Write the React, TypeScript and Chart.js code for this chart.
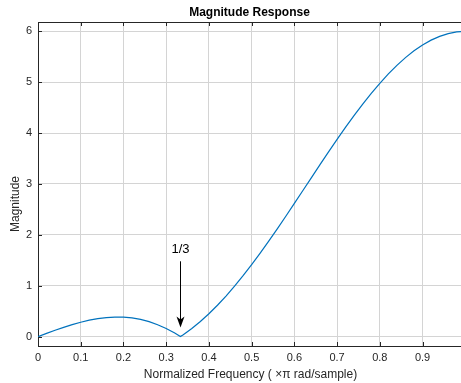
import React, { useEffect, useRef } from "react";
import { Chart, registerables } from "chart.js";

Chart.register(...registerables);

const freq = [
  0, 0.02, 0.04, 0.06, 0.08, 0.1, 0.12, 0.14, 0.16, 0.18, 0.2, 0.22, 0.24, 0.26, 0.28, 0.3, 0.32,
  0.3333, 0.34, 0.36, 0.38, 0.4, 0.42, 0.44, 0.46, 0.48, 0.5, 0.52, 0.54, 0.56, 0.58, 0.6, 0.62,
  0.64, 0.66, 0.68, 0.7, 0.72, 0.74, 0.76, 0.78, 0.8, 0.82, 0.84, 0.86, 0.88, 0.9, 0.92, 0.94,
  0.96, 0.98, 0.99,
];
const magnitude = [
  0, 0.0626, 0.1236, 0.1816, 0.2349, 0.2822, 0.3221, 0.3532, 0.3743, 0.3843, 0.382, 0.3665,
  0.3372, 0.2932, 0.2341, 0.1594, 0.069, 0, 0.0372, 0.1591, 0.2965, 0.449, 0.6161, 0.7971,
  0.9911, 1.1972, 1.4142, 1.641, 1.8763, 2.1185, 2.3663, 2.618, 2.872, 3.1266, 3.3802, 3.6308,
  3.8769, 4.1167, 4.3485, 4.5707, 4.7816, 4.9798, 5.1638, 5.3323, 5.484, 5.6178, 5.7328, 5.828,
  5.9028, 5.9567, 5.9892, 5.9973,
];
const xTicks = [0, 0.1, 0.2, 0.3, 0.4, 0.5, 0.6, 0.7, 0.8, 0.9];
const yTicks = [0, 1, 2, 3, 4, 5, 6];
const titleText = "Magnitude Response";
const xLabel = "Normalized Frequency ( ×π rad/sample)";
const yLabel = "Magnitude";
const markerX = 1 / 3;
const markerLabel = "1/3";

const FONT = '"Liberation Sans", Arial, Helvetica, sans-serif';
const AXIS = "#262626";

const decor = {
  id: "decor",
  afterDraw(chart: any) {
    const { ctx, chartArea: a, scales } = chart;
    const xs = scales.x;
    const ys = scales.y;
    ctx.save();
    // top border
    ctx.strokeStyle = AXIS;
    ctx.lineWidth = 1;
    ctx.beginPath();
    ctx.moveTo(a.left, Math.round(a.top) + 0.5);
    ctx.lineTo(a.right, Math.round(a.top) + 0.5);
    ctx.stroke();
    // inward ticks
    ctx.beginPath();
    xTicks.forEach((v) => {
      const px = Math.round(xs.getPixelForValue(v)) + 0.5;
      ctx.moveTo(px, a.bottom);
      ctx.lineTo(px, a.bottom - 4);
      ctx.moveTo(px, a.top);
      ctx.lineTo(px, a.top + 4);
    });
    yTicks.forEach((v) => {
      const py = Math.round(ys.getPixelForValue(v)) + 0.5;
      ctx.moveTo(a.left, py);
      ctx.lineTo(a.left + 4, py);
    });
    ctx.stroke();
    // title
    ctx.fillStyle = "#000";
    ctx.font = `bold 12px ${FONT}`;
    ctx.textAlign = "center";
    ctx.textBaseline = "middle";
    ctx.fillText(titleText, (a.left + a.right) / 2, 13);
    // axis labels
    ctx.fillStyle = AXIS;
    ctx.font = `12px ${FONT}`;
    ctx.fillText(xLabel, (a.left + a.right) / 2 + 1, 375);
    ctx.save();
    ctx.translate(16, 204);
    ctx.rotate(-Math.PI / 2);
    ctx.fillText(yLabel, 0, 0);
    ctx.restore();
    // annotation
    const mx = Math.round(xs.getPixelForValue(markerX)) + 0.5;
    const tipY = ys.getPixelForValue(0.18);
    const tailY = ys.getPixelForValue(1.48);
    ctx.fillStyle = "#000";
    ctx.font = `13px ${FONT}`;
    ctx.fillText(markerLabel, mx, ys.getPixelForValue(1.71));
    ctx.strokeStyle = "#000";
    ctx.lineWidth = 1;
    ctx.beginPath();
    ctx.moveTo(mx, tailY);
    ctx.lineTo(mx, tipY - 4);
    ctx.stroke();
    ctx.beginPath();
    ctx.moveTo(mx, tipY);
    ctx.lineTo(mx - 4, tipY - 11);
    ctx.lineTo(mx, tipY - 8);
    ctx.lineTo(mx + 4, tipY - 11);
    ctx.closePath();
    ctx.fill();
    ctx.restore();
  },
};

export default function App() {
  const ref = useRef<HTMLCanvasElement | null>(null);
  useEffect(() => {
    if (!ref.current) return;
    const chart = new Chart(ref.current, {
      type: "line",
      data: {
        datasets: [
          {
            data: freq.map((f, i) => ({ x: f, y: magnitude[i] })),
            borderColor: "#0072BD",
            borderWidth: 1.2,
            pointRadius: 0,
            tension: 0,
            fill: false,
          },
        ],
      },
      options: {
        animation: false,
        responsive: false,
        layout: { padding: { top: 22, right: 0, left: 0, bottom: 0 } },
        plugins: { legend: { display: false }, title: { display: false }, tooltip: { enabled: false } },
        scales: {
          x: {
            type: "linear",
            min: 0,
            max: 0.99,
            afterBuildTicks: (s: any) => {
              s.ticks = xTicks.map((v) => ({ value: v }));
            },
            afterFit: (s: any) => {
              s.height = 37;
            },
            ticks: {
              font: { family: FONT, size: 11 },
              color: AXIS,
              padding: 5,
              maxRotation: 0,
              autoSkip: false,
              callback: (v: any) => String(Number(v)),
            },
            grid: { color: "#d4d4d4", lineWidth: 1, drawTicks: false },
            border: { display: true, color: AXIS, width: 1 },
          },
          y: {
            type: "linear",
            min: -0.185,
            max: 6.185,
            afterBuildTicks: (s: any) => {
              s.ticks = yTicks.map((v) => ({ value: v }));
            },
            afterFit: (s: any) => {
              s.width = 38;
            },
            ticks: {
              font: { family: FONT, size: 11 },
              color: AXIS,
              padding: 6,
              autoSkip: false,
              callback: (v: any) => String(Number(v)),
            },
            grid: { color: "#d4d4d4", lineWidth: 1, drawTicks: false },
            border: { display: true, color: AXIS, width: 1 },
          },
        },
      },
      plugins: [decor],
    });
    return () => chart.destroy();
  }, []);
  return (
    <canvas
      ref={ref}
      width={461}
      height={383}
      style={{ position: "absolute", left: 0, top: 0, width: 461, height: 383, background: "#fff" }}
    />
  );
}
